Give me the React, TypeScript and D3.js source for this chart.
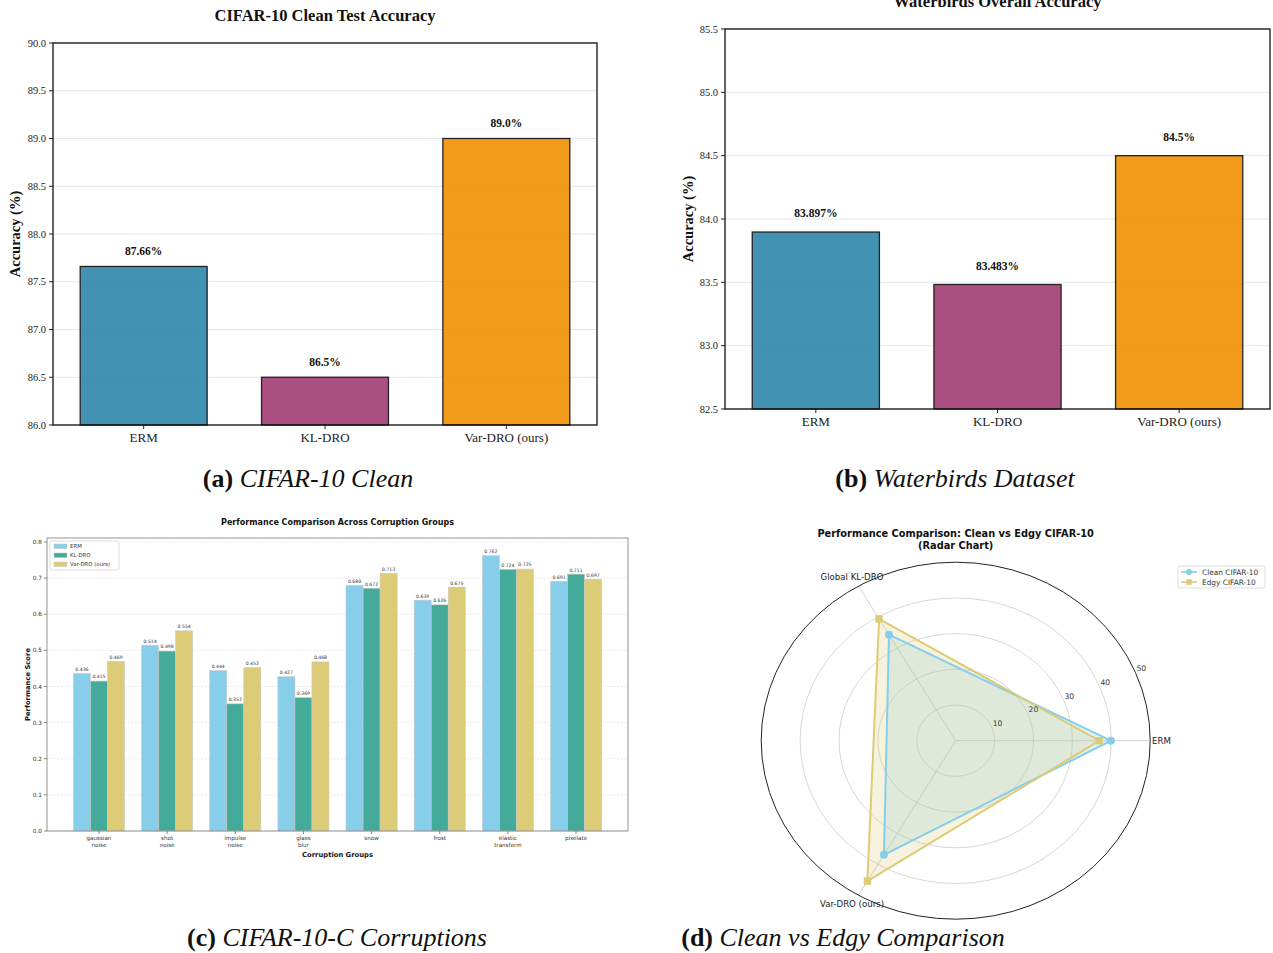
import React from "react";
import * as d3 from "d3";

// ---------- Data ----------
const barCategories = ["ERM", "KL-DRO", "Var-DRO (ours)"];
const barColors = ["#2E86AB", "#A23B72", "#F18F01"];

const cifarCleanAcc = [87.66, 86.5, 89.0];
const cifarCleanLabels = ["87.66%", "86.5%", "89.0%"];
const cifarCleanTicks = [86.0, 86.5, 87.0, 87.5, 88.0, 88.5, 89.0, 89.5, 90.0];

const waterbirdsAcc = [83.897, 83.483, 84.5];
const waterbirdsLabels = ["83.897%", "83.483%", "84.5%"];
const waterbirdsTicks = [82.5, 83.0, 83.5, 84.0, 84.5, 85.0, 85.5];

const corruptionGroups = [
  ["gaussian", "noise"],
  ["shot", "noise"],
  ["impulse", "noise"],
  ["glass", "blur"],
  ["snow"],
  ["frost"],
  ["elastic", "transform"],
  ["pixelate"],
];
const corruptionSeries = ["ERM", "KL-DRO", "Var-DRO (ours)"];
const ermScores = [0.436, 0.514, 0.444, 0.427, 0.68, 0.639, 0.762, 0.691];
const klScores = [0.415, 0.498, 0.352, 0.369, 0.672, 0.626, 0.724, 0.711];
const varScores = [0.469, 0.554, 0.452, 0.468, 0.713, 0.675, 0.725, 0.697];
const corruptionTicks = [0, 0.1, 0.2, 0.3, 0.4, 0.5, 0.6, 0.7, 0.8];
const corruptionColors = ["#87CEEB", "#44AA99", "#DDCC77"];

const radarAxes = ["ERM", "Global KL-DRO", "Var-DRO (ours)"];
const cleanRadar = [39.9, 34.3, 36.9];
const edgyRadar = [36.9, 39.4, 45.4];
const radarTicks = [10, 20, 30, 40, 50];
const radarSeries = ["Clean CIFAR-10", "Edgy CIFAR-10"];
const radarColors = ["#87CEEB", "#DDCC77"];

const SERIF = "'Liberation Serif', 'Times New Roman', serif";
const SANS = "'DejaVu Sans', sans-serif";

type BarPanelProps = {
  left: number;
  right: number;
  top: number;
  bottom: number;
  domain: [number, number];
  ticks: number[];
  values: number[];
  labels: string[];
  title: string;
  titleY: number;
  ylabelX: number;
};

function BarPanel(p: BarPanelProps) {
  const x = d3.scaleLinear().domain([-0.5, 2.5]).range([p.left, p.right]);
  const y = d3.scaleLinear().domain(p.domain).range([p.bottom, p.top]);
  const bw = x(0.7) - x(0);
  const fmt = d3.format(".1f");
  return (
    <g>
      <text
        x={(p.left + p.right) / 2}
        y={p.titleY}
        textAnchor="middle"
        fontFamily={SERIF}
        fontWeight="bold"
        fontSize={16.5}
        fill="#111"
      >
        {p.title}
      </text>
      {p.ticks.map((t) => (
        <g key={t}>
          <line x1={p.left} x2={p.right} y1={y(t)} y2={y(t)} stroke="#e6e6e6" strokeWidth={1} />
          <line x1={p.left - 4} x2={p.left} y1={y(t)} y2={y(t)} stroke="#222" strokeWidth={1} />
          <text
            x={p.left - 7}
            y={y(t)}
            dy="0.35em"
            textAnchor="end"
            fontFamily={SERIF}
            fontSize={10.5}
            fill="#222"
          >
            {fmt(t)}
          </text>
        </g>
      ))}
      {p.values.map((v, i) => (
        <g key={i}>
          <rect
            x={x(i) - bw / 2}
            y={y(v)}
            width={bw}
            height={y(p.domain[0]) - y(v)}
            fill={barColors[i]}
            fillOpacity={0.9}
            stroke="#222"
            strokeWidth={1.3}
          />
          <text
            x={x(i)}
            y={y(v + 0.1) - 2}
            textAnchor="middle"
            fontFamily={SERIF}
            fontWeight="bold"
            fontSize={11.5}
            fill="#111"
          >
            {p.labels[i]}
          </text>
          <line x1={x(i)} x2={x(i)} y1={p.bottom} y2={p.bottom + 4} stroke="#222" strokeWidth={1} />
          <text
            x={x(i)}
            y={p.bottom + 17}
            textAnchor="middle"
            fontFamily={SERIF}
            fontSize={13}
            fill="#222"
          >
            {barCategories[i]}
          </text>
        </g>
      ))}
      <rect
        x={p.left}
        y={p.top}
        width={p.right - p.left}
        height={p.bottom - p.top}
        fill="none"
        stroke="#111"
        strokeWidth={1.3}
      />
      <text
        transform={`translate(${p.ylabelX},${(p.top + p.bottom) / 2}) rotate(-90)`}
        textAnchor="middle"
        dy="0.35em"
        fontFamily={SERIF}
        fontWeight="bold"
        fontSize={14.5}
        fill="#111"
      >
        Accuracy (%)
      </text>
    </g>
  );
}

function CorruptionPanel() {
  const left = 47,
    right = 628,
    top = 538,
    bottom = 831;
  const x = d3.scaleLinear().domain([-0.7625, 7.7625]).range([left, right]);
  const y = d3.scaleLinear().domain([0, 0.811]).range([bottom, top]);
  const w = 0.25;
  const bw = x(w) - x(0);
  const series = [ermScores, klScores, varScores];
  const fmt = d3.format(".3f");
  return (
    <g fontFamily={SANS}>
      <text x={(left + right) / 2} y={525} textAnchor="middle" fontWeight="bold" fontSize={8} fill="#111">
        Performance Comparison Across Corruption Groups
      </text>
      {corruptionTicks.map((t) => (
        <g key={t}>
          <line
            x1={left}
            x2={right}
            y1={y(t)}
            y2={y(t)}
            stroke="#dcdcdc"
            strokeWidth={0.6}
            strokeDasharray="2,1.5"
          />
          <line x1={left - 3} x2={left} y1={y(t)} y2={y(t)} stroke="#555" strokeWidth={0.7} />
          <text x={left - 5} y={y(t)} dy="0.35em" textAnchor="end" fontSize={5.8} fill="#333">
            {d3.format(".1f")(t)}
          </text>
        </g>
      ))}
      {series.map((vals, s) =>
        vals.map((v, i) => {
          const cx = x(i + (s - 1) * w);
          return (
            <rect
              key={`${s}-${i}`}
              x={cx - bw / 2}
              y={y(v)}
              width={bw}
              height={y(0) - y(v)}
              fill={corruptionColors[s]}
              stroke="#c8c8c8"
              strokeWidth={0.6}
            />
          );
        })
      )}
      {series.map((vals, s) =>
        vals.map((v, i) => {
          const cx = x(i + (s - 1) * w);
          return (
            <g key={`l${s}-${i}`}>
              <rect x={cx - 7.5} y={y(v) - 7.5} width={15} height={6} fill="white" />
              <text x={cx} y={y(v) - 2.6} textAnchor="middle" fontSize={4.6} fill="#333">
                {fmt(v)}
              </text>
            </g>
          );
        })
      )}
      {corruptionGroups.map((g, i) => (
        <g key={i}>
          <line x1={x(i)} x2={x(i)} y1={bottom} y2={bottom + 3} stroke="#555" strokeWidth={0.7} />
          {g.map((line, k) => (
            <text key={k} x={x(i)} y={bottom + 9 + k * 6.8} textAnchor="middle" fontSize={5.6} fill="#333">
              {line}
            </text>
          ))}
        </g>
      ))}
      <rect x={left} y={top} width={right - left} height={bottom - top} fill="none" stroke="#888" strokeWidth={0.9} />
      <text x={(left + right) / 2} y={856.5} textAnchor="middle" fontWeight="bold" fontSize={6.8} fill="#111">
        Corruption Groups
      </text>
      <text
        transform={`translate(28,${(top + bottom) / 2}) rotate(-90)`}
        textAnchor="middle"
        dy="0.35em"
        fontWeight="bold"
        fontSize={6.8}
        fill="#111"
      >
        Performance Score
      </text>
      {/* legend */}
      <rect x={50} y={541} width={69} height={29} rx={2} fill="white" stroke="#cfcfcf" strokeWidth={0.7} />
      {corruptionSeries.map((name, s) => (
        <g key={name}>
          <rect x={54} y={544 + s * 9} width={13} height={4.6} fill={corruptionColors[s]} stroke="#c8c8c8" strokeWidth={0.5} />
          <text x={70} y={546.3 + s * 9} dy="0.35em" fontSize={5.4} fill="#333">
            {name}
          </text>
        </g>
      ))}
    </g>
  );
}

function RadarPanel() {
  const cx = 955.7,
    cy = 740.7;
  const rx = d3.scaleLinear().domain([0, 50]).range([0, 194.5]);
  const ry = d3.scaleLinear().domain([0, 50]).range([0, 178.5]);
  const angles = radarAxes.map((_, i) => (i * 2 * Math.PI) / radarAxes.length);
  const pt = (v: number, a: number): [number, number] => [cx + rx(v) * Math.cos(a), cy - ry(v) * Math.sin(a)];
  const line = d3.line<[number, number]>().curve(d3.curveLinearClosed);
  const data = [cleanRadar, edgyRadar];
  const rl = (22.5 * Math.PI) / 180;
  return (
    <g fontFamily={SANS}>
      <text x={cx} y={537} textAnchor="middle" fontWeight="bold" fontSize={9.8} fill="#111">
        Performance Comparison: Clean vs Edgy CIFAR-10
      </text>
      <text x={cx} y={548.5} textAnchor="middle" fontWeight="bold" fontSize={9.8} fill="#111">
        (Radar Chart)
      </text>
      {radarTicks.slice(0, -1).map((t) => (
        <ellipse key={t} cx={cx} cy={cy} rx={rx(t)} ry={ry(t)} fill="none" stroke="#cccccc" strokeWidth={0.8} />
      ))}
      {angles.map((a, i) => {
        const [x2, y2] = pt(50, a);
        return <line key={i} x1={cx} y1={cy} x2={x2} y2={y2} stroke="#c4c4c4" strokeWidth={0.8} />;
      })}
      {data.map((vals, s) => {
        const pts = vals.map((v, i) => pt(v, angles[i]));
        return (
          <g key={s}>
            <path d={line(pts) || ""} fill={radarColors[s]} fillOpacity={0.25} stroke="none" />
          </g>
        );
      })}
      {data.map((vals, s) => {
        const pts = vals.map((v, i) => pt(v, angles[i]));
        return (
          <g key={`o${s}`}>
            <path d={line(pts) || ""} fill="none" stroke={radarColors[s]} strokeWidth={2} />
            {pts.map(([px, py], i) =>
              s === 0 ? (
                <circle key={i} cx={px} cy={py} r={4} fill={radarColors[s]} />
              ) : (
                <rect key={i} x={px - 3.7} y={py - 3.7} width={7.4} height={7.4} fill={radarColors[s]} />
              )
            )}
          </g>
        );
      })}
      <ellipse cx={cx} cy={cy} rx={rx(50)} ry={ry(50)} fill="none" stroke="#222" strokeWidth={1} />
      {radarTicks.map((t) => (
        <text
          key={t}
          x={cx + rx(t) * Math.cos(rl) + 1}
          y={cy - ry(t) * Math.sin(rl) - 1}
          fontSize={7.6}
          fill="#333"
        >
          {t}
        </text>
      ))}
      <text x={1152} y={740.7} dy="0.35em" fontSize={8.6} fill="#222">
        {radarAxes[0]}
      </text>
      <text x={852} y={577} dy="0.35em" textAnchor="middle" fontSize={8.6} fill="#222">
        {radarAxes[1]}
      </text>
      <text x={852} y={904} dy="0.35em" textAnchor="middle" fontSize={8.6} fill="#222">
        {radarAxes[2]}
      </text>
      {/* legend */}
      <rect x={1178} y={566} width={87} height={22} rx={2} fill="white" stroke="#d0d0d0" strokeWidth={0.7} />
      {radarSeries.map((name, s) => {
        const ly = 572 + s * 10;
        return (
          <g key={name}>
            <line x1={1181} x2={1197} y1={ly} y2={ly} stroke={radarColors[s]} strokeWidth={1.6} />
            {s === 0 ? (
              <circle cx={1189} cy={ly} r={3} fill={radarColors[s]} />
            ) : (
              <rect x={1186.2} y={ly - 2.8} width={5.6} height={5.6} fill={radarColors[s]} />
            )}
            <text x={1202} y={ly} dy="0.35em" fontSize={7.4} fill="#333">
              {name}
            </text>
          </g>
        );
      })}
    </g>
  );
}

function Caption({ x, y, tag, text }: { x: number; y: number; tag: string; text: string }) {
  return (
    <text x={x} y={y} textAnchor="middle" fontFamily={SERIF} fontSize={26} fill="#111">
      <tspan fontWeight="bold">{tag}</tspan>
      <tspan fontStyle="italic"> {text}</tspan>
    </text>
  );
}

export default function App() {
  return (
    <div style={{ position: "absolute", left: 0, top: 0 }}>
      <svg width={1273} height={953} viewBox="0 0 1273 953" style={{ display: "block", background: "white" }}>
        <rect x={0} y={0} width={1273} height={953} fill="white" />
        <BarPanel
          left={53}
          right={597}
          top={43}
          bottom={425}
          domain={[86, 90]}
          ticks={cifarCleanTicks}
          values={cifarCleanAcc}
          labels={cifarCleanLabels}
          title="CIFAR-10 Clean Test Accuracy"
          titleY={21}
          ylabelX={15}
        />
        <BarPanel
          left={725}
          right={1270}
          top={29}
          bottom={409}
          domain={[82.5, 85.5]}
          ticks={waterbirdsTicks}
          values={waterbirdsAcc}
          labels={waterbirdsLabels}
          title="Waterbirds Overall Accuracy"
          titleY={7}
          ylabelX={688}
        />
        <CorruptionPanel />
        <RadarPanel />
        <Caption x={308} y={487} tag="(a)" text="CIFAR-10 Clean" />
        <Caption x={955} y={487} tag="(b)" text="Waterbirds Dataset" />
        <Caption x={337} y={946} tag="(c)" text="CIFAR-10-C Corruptions" />
        <Caption x={843} y={946} tag="(d)" text="Clean vs Edgy Comparison" />
      </svg>
    </div>
  );
}
